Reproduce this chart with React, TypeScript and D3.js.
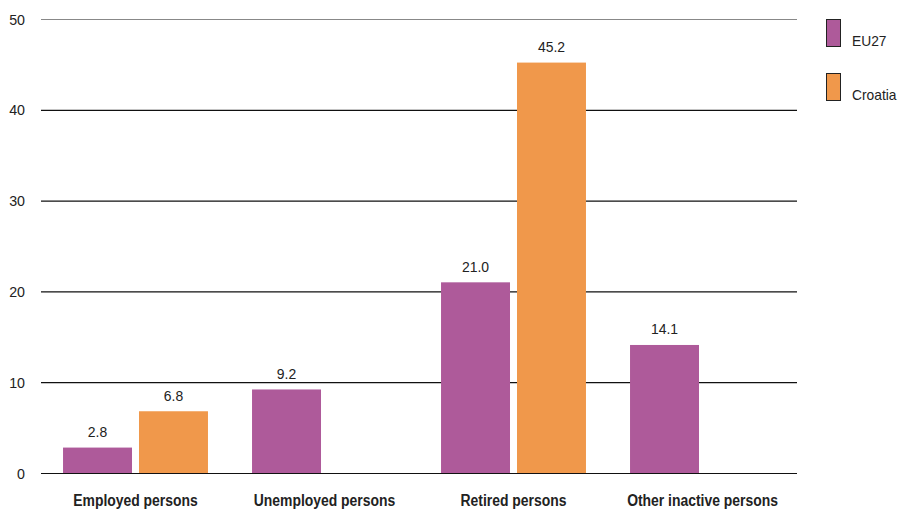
import React, { useEffect, useRef } from 'react';
import * as d3 from 'd3';

const categories = ['Employed persons', 'Unemployed persons', 'Retired persons', 'Other inactive persons'];
const seriesNames = ['EU27', 'Croatia'];
const eu27Values: (number | null)[] = [2.8, 9.2, 21.0, 14.1];
const croatiaValues: (number | null)[] = [6.8, null, 45.2, null];
const yTicks = [0, 10, 20, 30, 40, 50];
const colors = ['#AE5A9A', '#F0984B'];

const FONT = '"Liberation Sans", Arial, sans-serif';

const App: React.FC = () => {
  const svgRef = useRef<SVGSVGElement>(null);

  useEffect(() => {
    document.body.style.margin = '0';
    document.body.style.overflow = 'hidden';
    if (!svgRef.current) return;
    const svg = d3.select(svgRef.current);
    svg.selectAll('*').remove();

    const y = d3.scaleLinear().domain([0, 50]).range([473, 19]);
    const x = d3.scaleBand<string>().domain(categories).range([41, 797]).paddingInner(0).paddingOuter(0);
    const xSub = d3.scaleBand<string>().domain(seriesNames).range([0, x.bandwidth()])
      .paddingInner(0.092).paddingOuter(0.29);

    // gridlines
    svg.append('g').selectAll('line')
      .data(yTicks)
      .enter()
      .append('line')
      .attr('x1', 41)
      .attr('x2', 797)
      .attr('y1', d => y(d) + 0.5)
      .attr('y2', d => y(d) + 0.5)
      .attr('stroke', d => d === 50 ? '#888' : '#111')
      .attr('stroke-width', 1.2);

    svg.append('g').selectAll('text')
      .data(yTicks)
      .enter()
      .append('text')
      .attr('transform', d => `translate(25,${y(d) + 5.5}) scale(0.95,1)`)
      .attr('text-anchor', 'end')
      .style('font-family', FONT)
      .style('font-size', '15px')
      .style('fill', '#222')
      .text(d => d);

    const rows = categories.map((c, i) => ({ cat: c, vals: [eu27Values[i], croatiaValues[i]] }));

    const groups = svg.append('g').selectAll('g')
      .data(rows)
      .enter()
      .append('g')
      .attr('transform', d => `translate(${x(d.cat)},0)`);

    groups.each(function (row) {
      const g = d3.select(this);
      row.vals.forEach((v, j) => {
        if (v == null) return;
        const name = seriesNames[j];
        g.append('rect')
          .attr('x', xSub(name)!)
          .attr('y', y(v))
          .attr('width', xSub.bandwidth())
          .attr('height', y(0) - y(v))
          .attr('fill', colors[j]);
        g.append('text')
          .attr('transform', `translate(${xSub(name)! + xSub.bandwidth() / 2},${y(v) - 10.5}) scale(0.93,1)`)
          .attr('text-anchor', 'middle')
          .style('font-family', FONT)
          .style('font-size', '15px')
          .style('fill', '#222')
          .text(v.toFixed(1));
      });
    });

    // category labels
    svg.append('g').selectAll('text')
      .data(categories)
      .enter()
      .append('text')
      .attr('transform', d => `translate(${x(d)! + x.bandwidth() / 2},506) scale(0.87,1)`)
      .attr('text-anchor', 'middle')
      .style('font-family', FONT)
      .style('font-size', '16px')
      .style('font-weight', 'bold')
      .style('fill', '#222')
      .text(d => d);

    // legend
    const legend = svg.append('g').selectAll('g')
      .data(seriesNames)
      .enter()
      .append('g')
      .attr('transform', (d, i) => `translate(826,${19.5 + i * 54})`);

    legend.append('rect')
      .attr('x', 0.5)
      .attr('y', 0)
      .attr('width', 14)
      .attr('height', 27)
      .attr('fill', (d, i) => colors[i])
      .attr('stroke', '#222')
      .attr('stroke-width', 1);

    legend.append('text')
      .attr('transform', 'translate(26,26.5) scale(0.92,1)')
      .style('font-family', FONT)
      .style('font-size', '15px')
      .style('fill', '#222')
      .text(d => d);
  }, []);

  return (
    <svg ref={svgRef} width={905} height={512}
      style={{ display: 'block', position: 'absolute', left: 0, top: 0, background: '#fff' }}></svg>
  );
};

export default App;
